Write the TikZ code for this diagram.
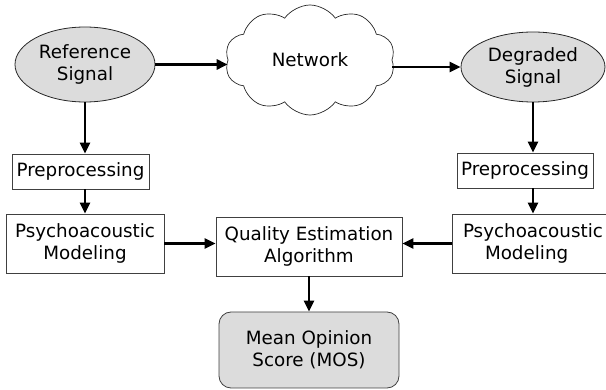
\documentclass[tikz,border=0pt]{standalone}
\usepackage{fontspec}
\setmainfont{DejaVu Sans}
\usetikzlibrary{shapes.geometric,shapes.symbols,arrows.meta}
\definecolor{sig}{HTML}{DCDCDC}
\begin{document}
\begin{tikzpicture}[x=1pt,y=-1pt,
  every node/.style={font=\fontsize{18.3}{22}\selectfont, align=center, inner sep=0pt},
  sigell/.style={ellipse, draw=black!85, line width=0.8pt, fill=sig},
  procbox/.style={rectangle, draw=black!75, line width=0.8pt, fill=white},
  arr/.style={line width=2.6pt, -{Triangle[length=11pt,width=10pt]}}]
\useasboundingbox (0,0) rectangle (606,390);
\node[sigell, minimum width=140pt, minimum height=75pt] (ref) at (85,64.5) {Reference\\Signal};
\node[cloud, cloud puffs=10, cloud puff arc=110, aspect=1.55, draw=black!85, line width=0.7pt,
      minimum width=170pt, minimum height=110pt] (net) at (310,60) {Network};
\node[sigell, minimum width=144pt, minimum height=70pt] (deg) at (533,67) {Degraded\\Signal};
\node[procbox, minimum width=137pt, minimum height=35pt] (pre1) at (80.5,171.5) {Preprocessing};
\node[procbox, minimum width=136pt, minimum height=35pt] (pre2) at (525,170.5) {Preprocessing};
\node[procbox, minimum width=158pt, minimum height=59pt] (psy1) at (85,243.5) {Psychoacoustic\\Modeling};
\node[procbox, minimum width=186pt, minimum height=59pt] (qea) at (309,246.5) {Quality Estimation\\Algorithm};
\node[procbox, minimum width=160pt, minimum height=59pt, text width=152pt, align=left] (psy2) at (532,243.5) {\hspace*{7pt}Psychoacoustic\\\hspace*{29pt}Modeling};
\node[procbox, rounded corners=12pt, fill=sig, minimum width=180pt, minimum height=76pt] (mos) at (309,350) {Mean Opinion\\Score (MOS)};
\draw[arr] (ref.east) -- (ref.east -| net.west);
\draw[arr] (deg.west -| net.east) -- (deg.west);
\draw[arr] (ref.south) -- (ref.south |- pre1.north);
\draw[arr] (ref.south |- pre1.south) -- (ref.south |- psy1.north);
\draw[arr] (deg.south) -- (deg.south |- pre2.north);
\draw[arr] (deg.south |- pre2.south) -- (deg.south |- psy2.north);
\draw[arr] (psy1.east) -- (psy1.east -| qea.west);
\draw[arr] (psy2.west) -- (psy2.west -| qea.east);
\draw[arr] (qea.south) -- (mos.north);
\end{tikzpicture}
\end{document}
